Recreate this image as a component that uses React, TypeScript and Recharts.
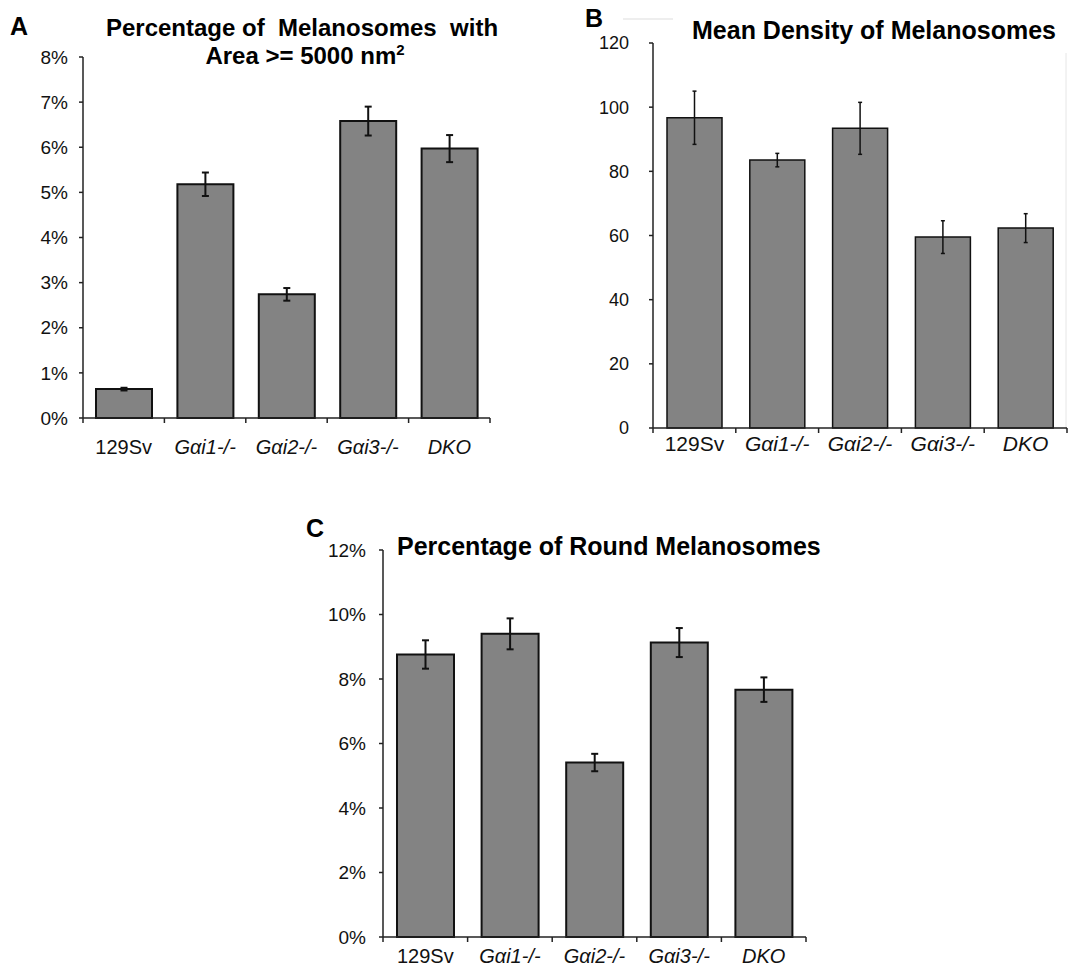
import React from 'react'
import { Bar, BarChart, ErrorBar, XAxis, YAxis } from 'recharts'

const FONT = '"Liberation Sans", Arial, Helvetica, sans-serif'

// shared categories
const genotypes = ['129Sv', 'Gαi1-/-', 'Gαi2-/-', 'Gαi3-/-', 'DKO']
const italicLabel = [false, true, true, true, true]

// A: % melanosomes with area >= 5000 nm2
const areaPct = [0.64, 5.18, 2.74, 6.58, 5.97]
const areaErr = [0.03, 0.26, 0.14, 0.32, 0.3]
const areaTicks = [0, 1, 2, 3, 4, 5, 6, 7, 8]

// B: mean density
const densityMean = [96.7, 83.5, 93.4, 59.5, 62.3]
const densityErr = [8.3, 2.1, 8.1, 5.1, 4.5]
const densityTicks = [0, 20, 40, 60, 80, 100, 120]

// C: % round melanosomes
const roundPct = [8.76, 9.4, 5.41, 9.13, 7.67]
const roundErr = [0.44, 0.48, 0.27, 0.45, 0.38]
const roundTicks = [0, 2, 4, 6, 8, 10, 12]

const toRows = (values: number[], errs: number[]) =>
  genotypes.map((name, i) => ({ name, value: values[i], err: errs[i] }))

// category label plus the small tick marks between categories
const GenotypeTick = (props: any) => {
  const { x, y, payload, index, visibleTicksCount, width, labelSize, labelGap } = props
  const half = payload?.offset ? payload.offset : width / visibleTicksCount / 2
  const axisY = y - labelGap
  const last = index === visibleTicksCount - 1
  return (
    <g>
      <line x1={x - half} x2={x - half} y1={axisY} y2={axisY + 5} stroke="#222" strokeWidth={1.5} />
      {last && <line x1={x + half} x2={x + half} y1={axisY} y2={axisY + 5} stroke="#222" strokeWidth={1.5} />}
      <text
        x={x}
        y={y}
        dy="0.71em"
        textAnchor="middle"
        fill="#111"
        fontSize={labelSize}
        fontFamily={FONT}
        fontStyle={italicLabel[index] ? 'italic' : 'normal'}
      >
        {payload.value}
      </text>
    </g>
  )
}

interface PanelProps {
  rows: { name: string; value: number; err: number }[]
  ticks: number[]
  fmt: (v: number) => string
  width: number
  height: number
  margin: { top: number; right: number; left: number; bottom: number }
  yWidth: number
  xHeight: number
  barSize: number
  yFont: number
  yGap: number
  xFont: number
  xGap: number
  barStroke: number
  errWidth: number
  errStroke: number
}

const Panel: React.FC<PanelProps> = (p) => (
  <BarChart width={p.width} height={p.height} data={p.rows} margin={p.margin}>
    <XAxis
      dataKey="name"
      interval={0}
      height={p.xHeight}
      tickSize={0}
      tickMargin={p.xGap}
      axisLine={{ stroke: '#222', strokeWidth: 1.5 }}
      tick={<GenotypeTick labelSize={p.xFont} labelGap={p.xGap} />}
    />
    <YAxis
      width={p.yWidth}
      domain={[p.ticks[0], p.ticks[p.ticks.length - 1]]}
      ticks={p.ticks}
      interval={0}
      tickFormatter={p.fmt}
      tickSize={4}
      tickMargin={p.yGap}
      axisLine={{ stroke: '#222', strokeWidth: 1.5 }}
      tickLine={{ stroke: '#222', strokeWidth: 1.5 }}
      tick={{ fill: '#111', fontSize: p.yFont, fontFamily: FONT }}
    />
    <Bar
      dataKey="value"
      fill="#838383"
      stroke="#111"
      strokeWidth={p.barStroke}
      barSize={p.barSize}
      isAnimationActive={false}
    >
      <ErrorBar
        dataKey="err"
        width={p.errWidth}
        stroke="#111"
        strokeWidth={p.errStroke}
        isAnimationActive={false}
      />
    </Bar>
  </BarChart>
)

const pct = (v: number) => `${v}%`

export default function App() {
  return (
    <div
      style={{
        position: 'absolute',
        left: 0,
        top: 0,
        width: 1076,
        height: 971,
        background: '#fff',
        fontFamily: FONT,
      }}
    >
      <svg width={1076} height={971} style={{ position: 'absolute', left: 0, top: 0 }}>
        <g fontFamily={FONT} fontWeight="bold" fill="#000">
          <text x={10} y={35} fontSize={25}>A</text>
          <text x={302} y={36} fontSize={24} textAnchor="middle" style={{ whiteSpace: 'pre' }}>
            {'Percentage of  Melanosomes  with'}
          </text>
          <text x={305} y={64} fontSize={24} textAnchor="middle">
            Area &gt;= 5000 nm<tspan fontSize={15} dy={-9}>2</tspan>
          </text>
          <text x={585} y={27} fontSize={25}>B</text>
          <text x={874} y={39} fontSize={25} textAnchor="middle">Mean Density of Melanosomes</text>
          <text x={306} y={537} fontSize={25}>C</text>
          <text x={397} y={555} fontSize={25}>Percentage of Round Melanosomes</text>
        </g>
        <line x1={623} x2={673} y1={19} y2={19} stroke="#ddd" strokeWidth={1} />
        <line x1={1066} x2={1066} y1={53} y2={430} stroke="#e6e6e6" strokeWidth={1} />
      </svg>

      <div style={{ position: 'absolute', left: 0, top: 0 }}>
        <Panel
          rows={toRows(areaPct, areaErr)}
          ticks={areaTicks}
          fmt={pct}
          width={510}
          height={470}
          margin={{ top: 57, right: 20, left: 0, bottom: 0 }}
          yWidth={83}
          xHeight={52}
          barSize={56}
          yFont={19}
          yGap={11}
          xFont={20}
          xGap={22}
          barStroke={2}
          errWidth={3.5}
          errStroke={2}
        />
      </div>

      <div style={{ position: 'absolute', left: 540, top: 0 }}>
        <Panel
          rows={toRows(densityMean, densityErr)}
          ticks={densityTicks}
          fmt={(v) => String(v)}
          width={536}
          height={470}
          margin={{ top: 43, right: 9, left: 0, bottom: 0 }}
          yWidth={113}
          xHeight={42}
          barSize={55}
          yFont={18}
          yGap={20}
          xFont={21}
          xGap={8}
          barStroke={1.5}
          errWidth={2}
          errStroke={1.5}
        />
      </div>

      <div style={{ position: 'absolute', left: 300, top: 500 }}>
        <Panel
          rows={toRows(roundPct, roundErr)}
          ticks={roundTicks}
          fmt={pct}
          width={520}
          height={471}
          margin={{ top: 50, right: 14, left: 0, bottom: 0 }}
          yWidth={83}
          xHeight={34}
          barSize={57}
          yFont={19}
          yGap={13}
          xFont={20}
          xGap={12}
          barStroke={2}
          errWidth={3.5}
          errStroke={2}
        />
      </div>
    </div>
  )
}
